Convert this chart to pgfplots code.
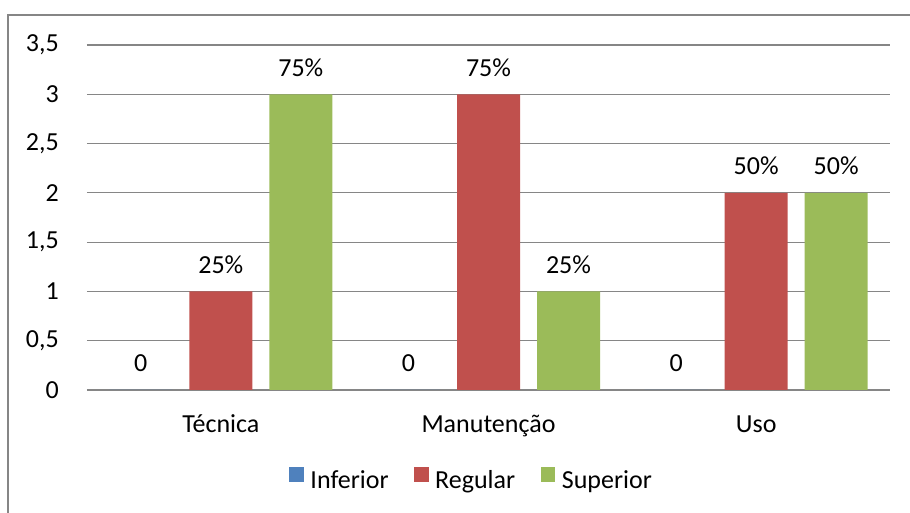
\documentclass[border=0pt]{standalone}
\usepackage{fontspec}
\setmainfont{Carlito}
\usepackage{pgfplots}
\pgfplotsset{compat=1.18}
\definecolor{cblue}{HTML}{4F81BD}
\definecolor{cred}{HTML}{C0504D}
\definecolor{cgreen}{HTML}{9BBB59}
\definecolor{gridgray}{RGB}{134,134,134}
\begin{document}
\fontsize{19.5}{23}\selectfont
\begin{tikzpicture}
\useasboundingbox (0,0) rectangle (682.5pt,384.75pt);
\draw[color=gridgray, line width=0.9pt] (6pt,-20pt) -- (6pt,373.5pt) -- (700pt,373.5pt);
\begin{axis}[
  at={(65.25pt,92.25pt)}, anchor=south west,
  scale only axis, width=602.25pt, height=258.75pt,
  xmin=-0.5, xmax=2.5, ymin=0, ymax=3.5,
  xtick={0,1,2}, xticklabels={Técnica,Manutenção,Uso},
  ytick={0,0.5,1,1.5,2,2.5,3,3.5},
  /pgf/number format/.cd, use comma, assume math mode=true, /pgfplots/.cd,
  ymajorgrids, major grid style={color=gridgray, line width=0.9pt},
  axis line style={draw=none},
  major tick length=0pt,
  yticklabel style={font=\fontsize{19.5}{23}\selectfont, xshift=-14.5pt},
  xticklabel style={font=\fontsize{19.5}{23}\selectfont, anchor=base, yshift=-32.25pt},
  ybar=12.75pt, bar width=47.25pt,
  point meta=explicit symbolic,
  nodes near coords,
  nodes near coords style={font=\fontsize{19.5}{23}\selectfont, anchor=base, yshift=13.5pt, text=black},
  legend columns=3,
  legend style={draw=none, at={(0.4776,-0.262)}, anchor=center,
    font=\fontsize{19.5}{23}\selectfont,
    nodes={text height=14pt, text depth=4pt, inner sep=0pt},
    /tikz/every even column/.append style={column sep=19pt},
    /tikz/every odd column/.append style={column sep=5pt}},
  legend image code/.code={\fill[#1] (0pt,-0.5pt) rectangle (11pt,10.5pt);},
]
\addplot[fill=cblue, draw=none] coordinates {(0,0) [0] (1,0) [0] (2,0) [0]};
\addplot[fill=cred, draw=none] coordinates {(0,1) [25\%] (1,3) [75\%] (2,2) [50\%]};
\addplot[fill=cgreen, draw=none] coordinates {(0,3) [75\%] (1,1) [25\%] (2,2) [50\%]};
\legend{Inferior,Regular,Superior}
\end{axis}
\end{tikzpicture}
\end{document}
